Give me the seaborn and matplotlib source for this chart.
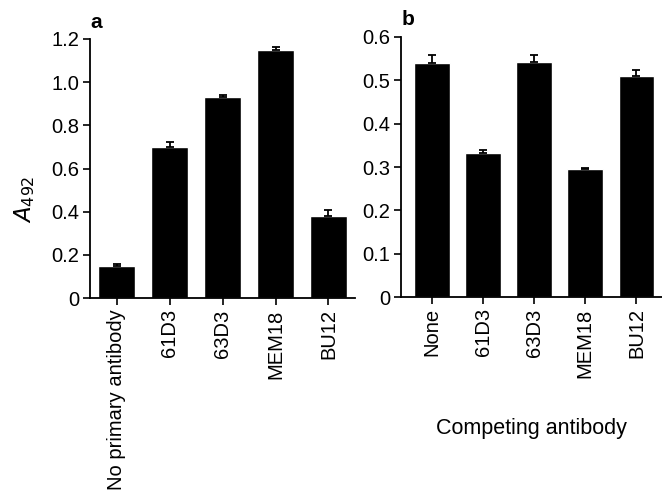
import numpy as np
import pandas as pd
import matplotlib
matplotlib.use("Agg")
import matplotlib.pyplot as plt
import seaborn as sns

sns.set_theme(style="ticks")
plt.rcParams['font.family'] = ['Liberation Sans', 'DejaVu Sans']
plt.rcParams['text.color'] = 'black'
plt.rcParams['axes.labelcolor'] = 'black'
plt.rcParams['xtick.color'] = 'black'
plt.rcParams['ytick.color'] = 'black'

# painel a: ligacao dos anticorpos
labels_a = ['No primary antibody', '61D3', '63D3', 'MEM18', 'BU12']
values_a = [0.15, 0.70, 0.93, 1.15, 0.38]
errors_a = [0.006, 0.025, 0.012, 0.011, 0.03]

# painel b: competicao
labels_b = ['None', '61D3', '63D3', 'MEM18', 'BU12']
values_b = [0.540, 0.332, 0.541, 0.295, 0.511]
errors_b = [0.019, 0.007, 0.018, 0.002, 0.013]

yticks_a = [0, 0.2, 0.4, 0.6, 0.8, 1.0, 1.2]
yticks_b = [0, 0.1, 0.2, 0.3, 0.4, 0.5, 0.6]


def painel(ax, labels, values, errors, yticks, xlim):
    df = pd.DataFrame({'anticorpo': labels, 'A492': values})
    sns.barplot(data=df, x='anticorpo', y='A492', color='black',
                saturation=1, width=0.7, ax=ax)
    pos = np.arange(len(labels))
    # barras de erro so para cima
    ax.errorbar(pos, values, yerr=[np.zeros(len(errors)), errors],
                fmt='none', ecolor='black', elinewidth=1.3, capsize=3, capthick=1.3)
    ax.set_ylim(yticks[0], yticks[-1])
    ax.set_xlim(*xlim)
    ax.set_yticks(yticks)
    ax.set_yticklabels(['0' if t == 0 else f'{t:.1f}' for t in yticks])
    ax.set_xticks(pos)
    ax.set_xticklabels(labels, rotation=90)
    ax.set_xlabel('')
    ax.set_ylabel('')
    sns.despine(ax=ax)
    for s in ['left', 'bottom']:
        ax.spines[s].set_linewidth(1.3)
        ax.spines[s].set_color('black')
    ax.tick_params(axis='both', direction='out', length=5, width=1.2,
                   colors='black', labelsize=14.5, pad=3)


fig = plt.figure(figsize=(6.62, 4.92), dpi=100)
ax_a = fig.add_axes([0.136, 0.394, 0.400, 0.527])
ax_b = fig.add_axes([0.606, 0.396, 0.394, 0.529])

painel(ax_a, labels_a, values_a, errors_a, yticks_a, (-0.51, 4.5))
painel(ax_b, labels_b, values_b, errors_b, yticks_b, (-0.6, 4.5))

ax_a.set_ylabel(r'$A_{492}$', fontsize=16.5)
ax_a.yaxis.set_label_coords(-0.2, 0.38)

ax_b.set_xlabel('Competing antibody', fontsize=15.5)
ax_b.xaxis.set_label_coords(0.5, -0.465)

fig.text(0.137, 0.943, 'a', fontsize=15, fontweight='bold')
fig.text(0.606, 0.949, 'b', fontsize=15, fontweight='bold')

fig.savefig('out.png', dpi=100)
